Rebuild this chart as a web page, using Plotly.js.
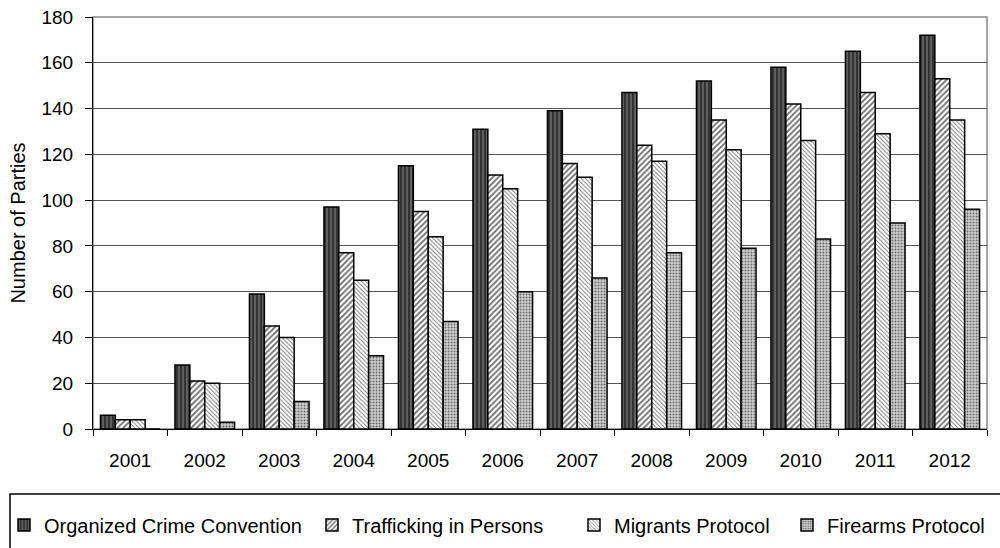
<!DOCTYPE html>
<html>
<head>
<meta charset="utf-8">
<script src="https://cdn.plot.ly/plotly-3.0.1.min.js"></script>
<style>html,body{margin:0;padding:0;background:#fff;}#chart{width:1000px;height:548px;}</style>
</head>
<body>
<div id="chart"></div>
<script>
const years = ['2001','2002','2003','2004','2005','2006','2007','2008','2009','2010','2011','2012'];
const organizedCrime = [6, 28, 59, 97, 115, 131, 139, 147, 152, 158, 165, 172];
const trafficking = [4, 21, 45, 77, 95, 111, 116, 124, 135, 142, 147, 153];
const migrants = [4, 20, 40, 65, 84, 105, 110, 117, 122, 126, 129, 135];
const firearms = [0, 3, 12, 32, 47, 60, 66, 77, 79, 83, 90, 96];
const seriesNames = ['Organized Crime Convention', 'Trafficking in Persons', 'Migrants Protocol', 'Firearms Protocol'];

const FONT = 'Liberation Sans, Arial, sans-serif';
const L = 93, R = 987, T = 17, B = 429;
const pw = R - L, ph = B - T;
function px(x){ return (x - L) / pw; }
function py(y){ return (B - y) / ph; }

const styles = [
  {bg:'#333333', fg:'#8a8a8a', shape:'|', size:4, solidity:0.25},
  {bg:'#ffffff', fg:'#6a6a6a', shape:'/', size:4, solidity:0.45},
  {bg:'#ffffff', fg:'#777777', shape:'\\', size:3, solidity:0.3},
  {bg:'#d0d0d0', fg:'#6a6a6a', shape:'.', size:3, solidity:0.35}
];
const values = [organizedCrime, trafficking, migrants, firearms];
const legendIds = ['legend','legend2','legend3','legend4'];
const textStarts = [44, 352, 614, 827];

const data = values.map((v,i)=>({
  type:'bar', x:years, y:v, name:seriesNames[i], legend:legendIds[i],
  marker:{color:styles[i].bg, line:{color:'#000', width:1.5},
    pattern:{shape:styles[i].shape, fgcolor:styles[i].fg, bgcolor:styles[i].bg, size:styles[i].size, solidity:styles[i].solidity, fillmode:'replace'}}
}));

const layout = {
  width:1000, height:548,
  margin:{l:L, r:1000-R, t:T, b:548-B, autoexpand:false},
  paper_bgcolor:'#fff', plot_bgcolor:'#fff',
  font:{family:FONT, size:19, color:'#000'},
  barmode:'group', bargap:0.2, bargroupgap:0,
  xaxis:{type:'category', tickson:'boundaries', ticks:'outside', ticklen:6, tickcolor:'#000',
    showline:true, linecolor:'#000', linewidth:1, showgrid:false, automargin:false,
    ticklabelstandoff:14, tickfont:{size:19, family:FONT}},
  yaxis:{range:[0,180], dtick:20, ticks:'outside', ticklen:7, tickcolor:'#000',
    showline:true, linecolor:'#000', linewidth:1, gridcolor:'#555', gridwidth:1,
    zeroline:false, automargin:false, ticklabelstandoff:8,
    tickfont:{size:19, family:FONT},
    title:{text:'Number of Parties', font:{size:20, family:FONT}, standoff:10}},
  shapes:[
    {type:'rect', xref:'paper', yref:'paper', x0:0, x1:1, y0:0, y1:1, line:{color:'#888', width:1.5}, layer:'below'},
    {type:'rect', xref:'paper', yref:'paper', x0:px(10), x1:px(1010), y0:py(494), y1:py(560), line:{color:'#000', width:1.5}, fillcolor:'rgba(0,0,0,0)'}
  ],
  showlegend:true
};
legendIds.forEach((id,i)=>{
  layout[id] = {orientation:'h', x:px(textStarts[i]-40), xanchor:'left', y:py(525), yanchor:'middle',
    bgcolor:'rgba(0,0,0,0)', borderwidth:0, font:{size:20, family:FONT, color:'#000'}, itemwidth:30};
});

Plotly.newPlot('chart', data, layout, {displayModeBar:false, staticPlot:true});
</script>
</body>
</html>
